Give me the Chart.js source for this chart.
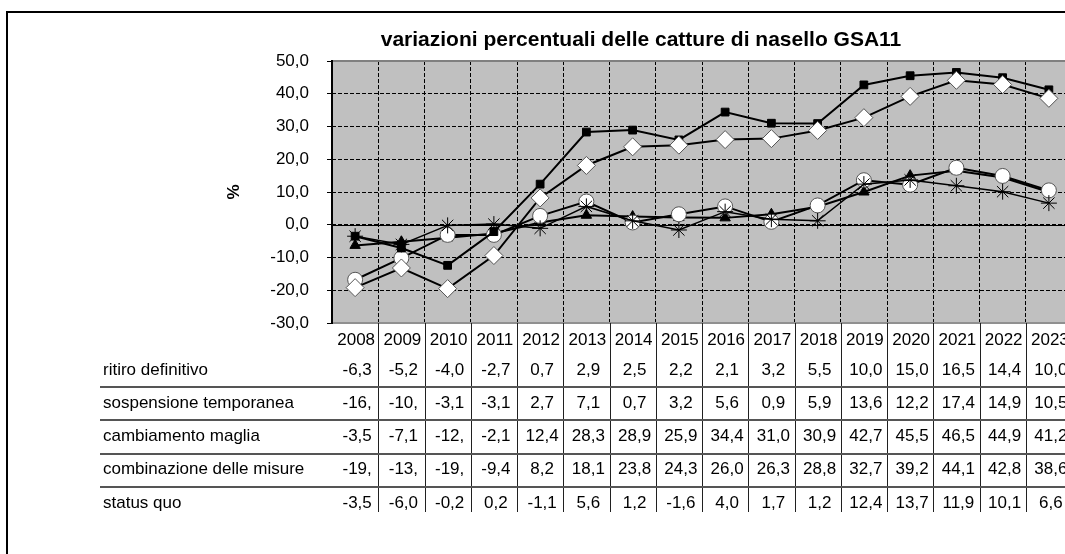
<!DOCTYPE html>
<html><head><meta charset="utf-8">
<script src="https://cdn.jsdelivr.net/npm/chart.js@4.4.1/dist/chart.umd.min.js"></script>
<style>
html,body{margin:0;padding:0;width:1065px;height:554px;overflow:hidden;background:#fff}
#frame{position:absolute;left:6px;top:11px;width:1300px;height:700px;border-left:2px solid #000;border-top:2px solid #000}
#c{position:absolute;left:0;top:0;width:1282px;height:554px}
</style></head>
<body>
<div id="frame"></div>
<canvas id="c" width="1282" height="554"></canvas>
<script>
const years = ['2008','2009','2010','2011','2012','2013','2014','2015','2016','2017','2018','2019','2020','2021','2022','2023'];
const ritiroDefinitivo = [-6.3,-5.2,-4.0,-2.7,0.7,2.9,2.5,2.2,2.1,3.2,5.5,10.0,15.0,16.5,14.4,10.0];
const sospensioneTemporanea = [-16.8,-10.2,-3.1,-3.1,2.7,7.1,0.7,3.2,5.6,0.9,5.9,13.6,12.2,17.4,14.9,10.5];
const cambiamentoMaglia = [-3.5,-7.1,-12.4,-2.1,12.4,28.3,28.9,25.9,34.4,31.0,30.9,42.7,45.5,46.5,44.9,41.2];
const combinazioneMisure = [-19.2,-13.2,-19.5,-9.4,8.2,18.1,23.8,24.3,26.0,26.3,28.8,32.7,39.2,44.1,42.8,38.6];
const statusQuo = [-3.5,-6.0,-0.2,0.2,-1.1,5.6,1.2,-1.6,4.0,1.7,1.2,12.4,13.7,11.9,10.1,6.6];
const seriesNames = ['ritiro definitivo','sospensione temporanea','cambiamento maglia','combinazione delle misure','status quo'];
const yTicks = [-30,-20,-10,0,10,20,30,40,50];
const titleText = 'variazioni percentuali delle catture di nasello GSA11';

const FONT = '"Liberation Sans", Arial, sans-serif';
const fmt = v => v.toFixed(1).replace('.', ',');

const seriesValues = [ritiroDefinitivo, sospensioneTemporanea, cambiamentoMaglia, combinazioneMisure, statusQuo];

const decor = {
  id: 'decor',
  beforeDraw(chart) {
    const {ctx, chartArea: a} = chart;
    ctx.save();
    ctx.fillStyle = '#c0c0c0';
    ctx.fillRect(a.left, a.top, a.right - a.left, a.bottom - a.top);
    ctx.restore();
  },
  beforeDatasetsDraw(chart) {
    const {ctx, chartArea: a, scales: {y}} = chart;
    ctx.save();
    const y0 = Math.round(y.getPixelForValue(0)) + 0.5;
    ctx.strokeStyle = '#000'; ctx.lineWidth = 1;
    ctx.beginPath(); ctx.moveTo(a.left, y0); ctx.lineTo(a.right, y0); ctx.stroke();
    ctx.strokeStyle = '#808080'; ctx.lineWidth = 2;
    ctx.beginPath(); ctx.moveTo(a.left, a.top); ctx.lineTo(a.right, a.top); ctx.stroke();
    ctx.strokeStyle = '#909090';
    ctx.beginPath(); ctx.moveTo(a.left, a.bottom); ctx.lineTo(a.right, a.bottom); ctx.stroke();
    ctx.strokeStyle = '#000';
    ctx.beginPath(); ctx.moveTo(a.left, a.top - 1); ctx.lineTo(a.left, a.bottom + 1); ctx.stroke();
    ctx.restore();
  },
  afterDraw(chart) {
    const {ctx, chartArea: a, scales: {x}} = chart;
    const n = years.length;
    const colW = (a.right - a.left) / n;
    const headerY = 340, rowY0 = 370, rowH = 33.25;
    ctx.save();
    ctx.strokeStyle = '#202020'; ctx.lineWidth = 1;
    for (let i = 1; i < n; i++) {
      const xx = Math.round(a.left + i * colW) + 0.5;
      ctx.beginPath(); ctx.moveTo(xx, a.bottom); ctx.lineTo(xx, 512); ctx.stroke();
    }
    ctx.strokeStyle = '#555'; ctx.lineWidth = 2;
    for (let r = 0; r < seriesNames.length - 1; r++) {
      const yy = Math.round(rowY0 + r * rowH + 17);
      ctx.beginPath(); ctx.moveTo(100, yy); ctx.lineTo(a.right, yy); ctx.stroke();
    }
    ctx.font = '17px ' + FONT;
    ctx.fillStyle = '#000';
    ctx.textBaseline = 'middle';
    ctx.textAlign = 'center';
    years.forEach((yr, i) => {
      ctx.fillText(yr, x.getPixelForValue(i) + 1, headerY);
    });
    seriesNames.forEach((name, r) => {
      const yy = rowY0 + r * rowH;
      ctx.textAlign = 'left';
      ctx.fillText(name, 103, yy);
      ctx.textAlign = 'center';
      seriesValues[r].forEach((v, i) => {
        let s = fmt(v);
        while (ctx.measureText(s).width > colW - 10 && s.length > 1) s = s.slice(0, -1);
        ctx.fillText(s, x.getPixelForValue(i) + 2, yy);
      });
    });
    ctx.restore();
  }
};

new Chart(document.getElementById('c'), {
  type: 'line',
  data: {
    labels: years,
    datasets: [
      {label: seriesNames[0], data: ritiroDefinitivo, order: 5, borderColor: '#000', borderWidth: 2,
        pointStyle: 'triangle', pointRadius: 6, pointBackgroundColor: '#000', pointBorderColor: '#000', pointBorderWidth: 1},
      {label: seriesNames[1], data: sospensioneTemporanea, order: 4, borderColor: '#000', borderWidth: 2,
        pointStyle: 'circle', pointRadius: 7.5, pointBackgroundColor: '#fff', pointBorderColor: '#555', pointBorderWidth: 1},
      {label: seriesNames[2], data: cambiamentoMaglia, order: 3, borderColor: '#000', borderWidth: 2,
        pointStyle: 'rect', pointRadius: 5.5, pointBackgroundColor: '#000', pointBorderColor: '#000', pointBorderWidth: 1},
      {label: seriesNames[3], data: combinazioneMisure, order: 2, borderColor: '#000', borderWidth: 2,
        pointStyle: 'rectRot', pointRadius: 9, pointBackgroundColor: '#fff', pointBorderColor: '#555', pointBorderWidth: 1},
      {label: seriesNames[4], data: statusQuo, order: 1, borderColor: '#000', borderWidth: 1.5,
        pointStyle: 'star', pointRadius: 8, pointBackgroundColor: '#000', pointBorderColor: '#000', pointBorderWidth: 1}
    ]
  },
  options: {
    responsive: false,
    animation: false,
    events: [],
    layout: {padding: {left: 210, right: 210, top: 0, bottom: 0}},
    plugins: {
      legend: {display: false},
      tooltip: {enabled: false},
      title: {display: true, text: titleText, color: '#000',
        font: {family: FONT, size: 21, weight: 'bold', lineHeight: 1.2},
        padding: {top: 27.4, bottom: 8.4}}
    },
    scales: {
      x: {
        type: 'category', offset: true,
        grid: {display: true, offset: true, drawTicks: false, color: '#000', lineWidth: 1},
        border: {display: false, dash: [4, 2]},
        ticks: {display: false},
        afterFit(s) { s.height = 554 - 323; }
      },
      y: {
        min: -30, max: 50,
        afterBuildTicks(s) { s.ticks = yTicks.map(v => ({value: v})); },
        grid: {color: '#000', lineWidth: 1, drawTicks: true, tickLength: 5, tickColor: '#000'},
        border: {display: false, dash: [4, 2]},
        ticks: {color: '#000', padding: 18, font: {family: FONT, size: 17}, callback: v => fmt(v)},
        title: {display: true, text: '%', color: '#000', font: {family: FONT, size: 17, weight: 'bold'},
          padding: {top: 14, bottom: 0}},
        afterFit(s) { s.width = 122; }
      }
    }
  },
  plugins: [decor]
});
</script>
</body></html>
